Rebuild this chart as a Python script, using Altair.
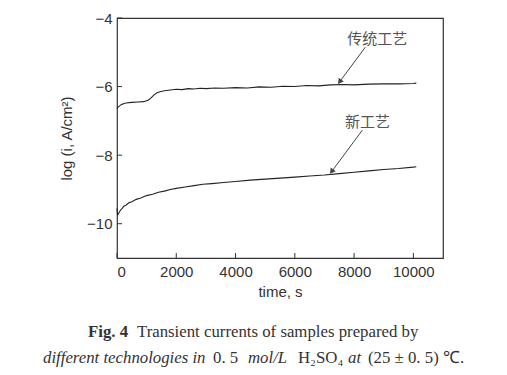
import altair as alt
import pandas as pd

# traditional process (传统工艺)
t_old = [0, 30, 80, 150, 300, 500, 700, 900, 1050, 1150, 1250, 1350, 1450, 1600, 1800,
         2000, 2200, 2400, 2600, 2800, 3000, 3300, 3600, 4000, 4400, 4800, 5200, 5600,
         6000, 6400, 6800, 7200, 7600, 8000, 8500, 9000, 9500, 10000, 10100]
v_old = [-6.65, -6.60, -6.57, -6.52, -6.48, -6.46, -6.45, -6.44, -6.40, -6.33, -6.24, -6.18,
         -6.15, -6.12, -6.10, -6.08, -6.09, -6.06, -6.07, -6.05, -6.06, -6.04, -6.05, -6.03,
         -6.04, -6.01, -6.02, -5.99, -6.00, -5.97, -5.98, -5.95, -5.94, -5.95, -5.93, -5.92,
         -5.92, -5.91, -5.90]

# new process (新工艺)
t_new = [0, 20, 50, 80, 120, 170, 230, 300, 400, 500, 650, 800, 1000, 1200, 1400, 1600,
         1800, 2000, 2300, 2600, 2900, 3200, 3600, 4000, 4500, 5000, 5500, 6000, 6500,
         7000, 7500, 8000, 8500, 9000, 9500, 10000, 10100]
v_new = [-9.55, -9.75, -9.70, -9.66, -9.60, -9.56, -9.49, -9.46, -9.39, -9.36, -9.29, -9.25,
         -9.18, -9.14, -9.08, -9.05, -9.00, -8.97, -8.93, -8.89, -8.85, -8.83, -8.80, -8.77,
         -8.73, -8.70, -8.67, -8.64, -8.61, -8.58, -8.54, -8.50, -8.46, -8.42, -8.39, -8.35,
         -8.34]

x_ticks = [0, 2000, 4000, 6000, 8000, 10000]
y_ticks = [-4, -6, -8, -10]

labels = ["传统工艺", "新工艺"]
label_t = [8780, 8450]
label_v = [-4.61, -7.03]
arrow_t0 = [8380, 8280]
arrow_v0 = [-4.85, -7.27]
arrow_t1 = [7530, 7260]
arrow_v1 = [-5.84, -8.46]

df = pd.DataFrame(
    {"t": t_old + t_new, "v": v_old + v_new,
     "s": ["old"] * len(t_old) + ["new"] * len(t_new)}
)
ann = pd.DataFrame({"label": labels, "t": label_t, "v": label_v,
                    "t0": arrow_t0, "v0": arrow_v0, "t1": arrow_t1, "v1": arrow_v1})

X = alt.Scale(domain=[0, 11000], nice=False)
Y = alt.Scale(domain=[-11, -4], nice=False)
AX = "#333333"

xaxis = alt.Axis(values=x_ticks, format="d", title="time, s", grid=False, ticks=False,
                 domain=False, labelFont="Liberation Sans", labelFontSize=15,
                 labelColor=AX, titleFont="Liberation Sans", titleFontSize=15,
                 titleFontWeight="normal", titleColor=AX, labelPadding=6, titlePadding=5)
yaxis = alt.Axis(values=y_ticks, title="log (i, A/cm²)", grid=False, ticks=False,
                 domain=False, labelFont="Liberation Sans", labelFontSize=15,
                 labelColor=AX, titleFont="Liberation Sans", titleFontSize=15,
                 titleFontWeight="normal", titleColor=AX, labelPadding=5,
                 titlePadding=12)

lines = alt.Chart(df).mark_line(color="#222222", strokeWidth=1.1).encode(
    x=alt.X("t:Q", scale=X, axis=xaxis),
    y=alt.Y("v:Q", scale=Y, axis=yaxis),
    detail="s:N",
)

xt = alt.Chart(pd.DataFrame({"t": x_ticks})).mark_rule(color=AX, strokeWidth=1).encode(
    x=alt.X("t:Q", scale=X), y=alt.value(240), y2=alt.value(235))
yt = alt.Chart(pd.DataFrame({"v": y_ticks})).mark_rule(color=AX, strokeWidth=1).encode(
    y=alt.Y("v:Q", scale=Y), x=alt.value(0), x2=alt.value(5))

arrows = alt.Chart(ann).mark_rule(color="#444444", strokeWidth=1).encode(
    x=alt.X("t0:Q", scale=X), y=alt.Y("v0:Q", scale=Y),
    x2="t1:Q", y2="v1:Q")
heads = alt.Chart(ann).mark_point(shape="triangle", filled=True, color="#444444",
                                  size=40, angle=216, opacity=1).encode(
    x=alt.X("t1:Q", scale=X), y=alt.Y("v1:Q", scale=Y))
texts = alt.Chart(ann).mark_text(font="Noto Sans CJK SC", fontSize=15, color="#555555",
                                 baseline="middle").encode(
    x=alt.X("t:Q", scale=X), y=alt.Y("v:Q", scale=Y), text="label:N")

cap_text = ["Fig. 4", "Transient currents of samples prepared by",
            "different technologies in", "0. 5", "mol/L", "H₂SO₄", "at",
            "(25 ± 0. 5) ℃."]
cap_x = [-29, 20, -74, 96, 131, 181, 231, 251]
cap_y = [319, 319, 345, 345, 345, 345, 345, 345]
cap_w = ["bold", "normal", "normal", "normal", "normal", "normal", "normal", "normal"]
cap_s = ["normal", "normal", "italic", "normal", "italic", "normal", "italic", "normal"]

caps = []
for txt, cx, cy, w, s in zip(cap_text, cap_x, cap_y, cap_w, cap_s):
    caps.append(
        alt.Chart(pd.DataFrame({"a": [0]})).mark_text(
            text=txt, font="Liberation Serif", fontSize=16.8, fontWeight=w, fontStyle=s,
            color="#333333", align="left", baseline="alphabetic"
        ).encode(x=alt.value(cx), y=alt.value(cy))
    )

chart = alt.layer(lines, xt, yt, arrows, heads, texts, *caps).properties(
    width=326, height=240,
    autosize=alt.AutoSizeParams(type="none"),
    padding={"left": 117, "top": 18, "right": 64, "bottom": 117},
    background="white",
).configure_view(stroke=AX, strokeWidth=1.2)

chart.save("out.html", embed_options={"renderer": "svg", "actions": False})
